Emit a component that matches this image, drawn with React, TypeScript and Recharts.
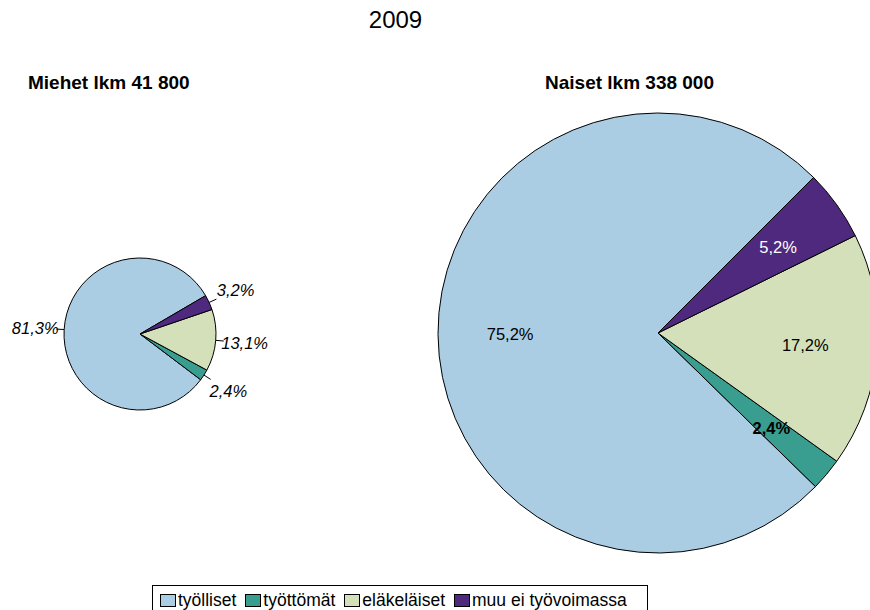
import { Cell, Pie, PieChart } from "recharts";

const CATEGORIES = ["työlliset", "työttömät", "eläkeläiset", "muu ei työvoimassa"];
const COLORS = ["#abcde4", "#399e8f", "#d3e0b9", "#4e297e"];

// osuudet prosentteina
const MIEHET = [81.3, 2.4, 13.1, 3.2];
const NAISET = [75.2, 2.4, 17.2, 5.2];

const TITLE = "2009";
const MIEHET_TITLE = "Miehet lkm 41 800";
const NAISET_TITLE = "Naiset lkm 338 000";

const RADIAN = Math.PI / 180;
const FONT = "'Liberation Sans', Arial, sans-serif";

const fmt = (v: number) => v.toFixed(1).replace(".", ",") + "%";

const toData = (values: number[]) =>
  CATEGORIES.map((name, i) => ({ name, value: values[i] }));

function OutsideLabel(props: any) {
  const { cx, cy, midAngle, outerRadius, value } = props;
  const cos = Math.cos(-midAngle * RADIAN);
  const sin = Math.sin(-midAngle * RADIAN);
  const x0 = cx + outerRadius * cos;
  const y0 = cy + outerRadius * sin;
  const x1 = cx + (outerRadius + 8) * cos;
  const y1 = cy + (outerRadius + 8) * sin;
  const tx = cx + (outerRadius + 29) * cos;
  const ty = cy + (outerRadius + 29) * sin;
  return (
    <g>
      <line x1={x0} y1={y0} x2={x1} y2={y1} stroke="#000" strokeWidth={1} />
      <text
        x={tx}
        y={ty}
        textAnchor="middle"
        dominantBaseline="central"
        fontSize={16.5}
        fontStyle="italic"
        fontFamily={FONT}
        fill="#000"
      >
        {fmt(value)}
      </text>
    </g>
  );
}

function InsideLabel(props: any) {
  const { cx, cy, midAngle, outerRadius, value, index } = props;
  const r = outerRadius * 0.672;
  const x = cx + r * Math.cos(-midAngle * RADIAN);
  const y = cy + r * Math.sin(-midAngle * RADIAN);
  return (
    <text
      x={x}
      y={y}
      textAnchor="middle"
      dominantBaseline="central"
      fontSize={16.5}
      fontFamily={FONT}
      fontWeight={index === 1 ? "bold" : "normal"}
      fill={index === 3 ? "#fff" : "#000"}
    >
      {fmt(value)}
    </text>
  );
}

export default function App() {
  const miehet = toData(MIEHET);
  const naiset = toData(NAISET);

  return (
    <div
      style={{
        position: "absolute",
        left: 0,
        top: 0,
        width: 870,
        height: 610,
        background: "#fff",
        fontFamily: FONT,
        overflow: "hidden",
      }}
    >
      <PieChart width={870} height={610} margin={{ top: 0, right: 0, bottom: 0, left: 0 }}>
        <Pie
          data={miehet}
          dataKey="value"
          nameKey="name"
          cx={140}
          cy={334}
          outerRadius={76}
          startAngle={30.3}
          endAngle={390.3}
          stroke="#000"
          strokeWidth={1}
          label={OutsideLabel}
          labelLine={false}
          isAnimationActive={false}
        >
          {miehet.map((_, i) => (
            <Cell key={i} fill={COLORS[i]} />
          ))}
        </Pie>
        <Pie
          data={naiset}
          dataKey="value"
          nameKey="name"
          cx={658}
          cy={333}
          outerRadius={220}
          startAngle={45}
          endAngle={405}
          stroke="#000"
          strokeWidth={1}
          label={InsideLabel}
          labelLine={false}
          isAnimationActive={false}
        >
          {naiset.map((_, i) => (
            <Cell key={i} fill={COLORS[i]} />
          ))}
        </Pie>
      </PieChart>

      <div
        style={{
          position: "absolute",
          left: 0,
          width: 791,
          top: 6,
          textAlign: "center",
          fontSize: 24,
        }}
      >
        {TITLE}
      </div>
      <div style={{ position: "absolute", left: 28, top: 72, fontSize: 19, fontWeight: "bold" }}>
        {MIEHET_TITLE}
      </div>
      <div style={{ position: "absolute", left: 545, top: 72, fontSize: 19, fontWeight: "bold" }}>
        {NAISET_TITLE}
      </div>

      <div
        style={{
          position: "absolute",
          left: 152,
          top: 585,
          width: 496,
          height: 40,
          border: "1px solid #000",
          boxSizing: "border-box",
          display: "flex",
          alignItems: "flex-start",
          paddingTop: 5,
          paddingLeft: 7,
          fontSize: 17.5,
          lineHeight: "19px",
          whiteSpace: "nowrap",
        }}
      >
        {CATEGORIES.map((c, i) => (
          <span
            key={c}
            style={{ display: "flex", alignItems: "center", marginRight: 9, flexShrink: 0 }}
          >
            <span
              style={{
                display: "inline-block",
                width: 14,
                height: 11,
                background: COLORS[i],
                border: "1px solid #000",
                marginRight: 2,
              }}
            />
            {c}
          </span>
        ))}
      </div>
    </div>
  );
}
